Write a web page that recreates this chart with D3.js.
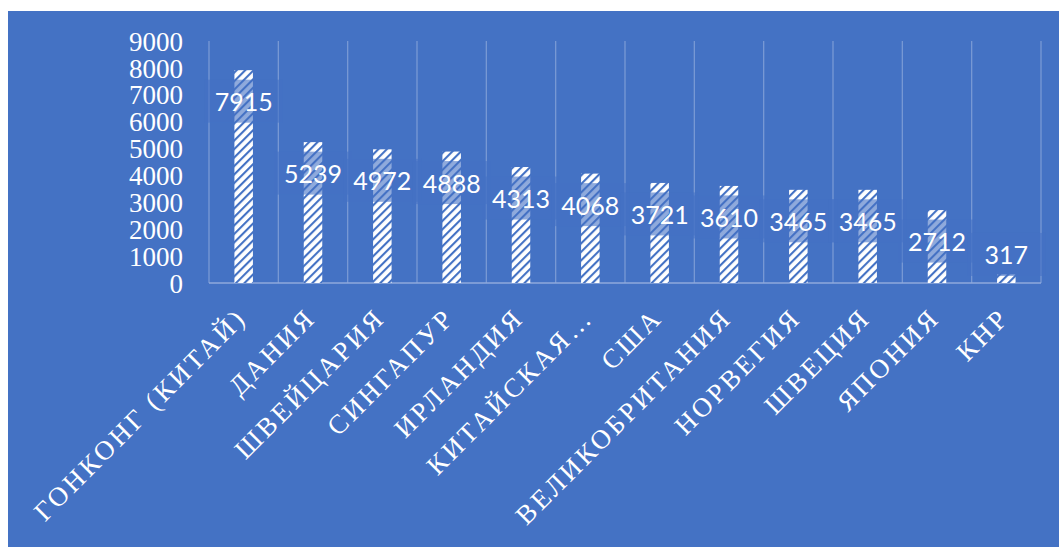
<!DOCTYPE html>
<html>
<head>
<meta charset="utf-8">
<script src="https://cdn.jsdelivr.net/npm/d3@7"></script>
<style>
  html, body { margin: 0; padding: 0; background: #ffffff; }
  svg { display: block; }
</style>
</head>
<body>
<svg id="chart" width="1059" height="547"></svg>
<script>
// ---- data ----
const categories = ["ГОНКОНГ (КИТАЙ)", "ДАНИЯ", "ШВЕЙЦАРИЯ", "СИНГАПУР", "ИРЛАНДИЯ", "КИТАЙСКАЯ…", "США", "ВЕЛИКОБРИТАНИЯ", "НОРВЕГИЯ", "ШВЕЦИЯ", "ЯПОНИЯ", "КНР"];
const values = [7915, 5239, 4972, 4888, 4313, 4068, 3721, 3610, 3465, 3465, 2712, 317];
const yTicks = [0, 1000, 2000, 3000, 4000, 5000, 6000, 7000, 8000, 9000];

// ---- layout ----
const W = 1059, H = 547;
const bg = "#4472C4";
const plot = { left: 209, right: 1041, top: 41, bottom: 283 };

const svg = d3.select("#chart");

// background panel
svg.append("rect").attr("x", 8).attr("y", 11).attr("width", W - 8).attr("height", H - 11).attr("fill", bg);

// hatch pattern
const defs = svg.append("defs");
const pat = defs.append("pattern")
  .attr("id", "hatch").attr("patternUnits", "userSpaceOnUse")
  .attr("width", 6).attr("height", 6)
  .attr("patternTransform", "rotate(45)");
pat.append("rect").attr("width", 6).attr("height", 6).attr("fill", "#ffffff");
pat.append("line").attr("x1", 1).attr("y1", 0).attr("x2", 1).attr("y2", 6)
  .attr("stroke", bg).attr("stroke-width", 2.2);

const x = d3.scaleBand().domain(categories).range([plot.left, plot.right]).paddingInner(0).paddingOuter(0);
const y = d3.scaleLinear().domain([0, 9000]).range([plot.bottom, plot.top]);

// vertical gridlines (category separators)
const gridX = categories.map(c => x(c)).concat([x(categories[categories.length - 1]) + x.bandwidth()]);
svg.append("g").selectAll("line").data(gridX).join("line")
  .attr("x1", d => d).attr("x2", d => d)
  .attr("y1", plot.top).attr("y2", plot.bottom)
  .attr("stroke", "#8faadc").attr("stroke-opacity", 0.7).attr("stroke-width", 1.3);

// baseline
svg.append("line").attr("x1", plot.left).attr("x2", plot.right)
  .attr("y1", y(0)).attr("y2", y(0))
  .attr("stroke", "#8faadc").attr("stroke-width", 1.3);

// bars
const barW = 18.5;
svg.append("g").selectAll("rect").data(values).join("rect")
  .attr("x", (d, i) => x(categories[i]) + x.bandwidth() / 2 - barW / 2)
  .attr("y", d => y(d))
  .attr("width", barW)
  .attr("height", d => y(0) - y(d))
  .attr("fill", "url(#hatch)");

// data labels with semi-transparent boxes
const boxW = 78, boxH = 43;
const labelY = d => {
  const h = y(0) - y(d);
  return h > boxH + 10 ? y(d) + 31 : y(d) - 20;
};
const lg = svg.append("g");
lg.selectAll("rect").data(values).join("rect")
  .attr("x", (d, i) => x(categories[i]) + x.bandwidth() / 2 - boxW / 2)
  .attr("y", d => labelY(d) - boxH / 2)
  .attr("width", boxW).attr("height", boxH)
  .attr("fill", bg).attr("fill-opacity", 0.6);
lg.selectAll("text").data(values).join("text")
  .attr("x", (d, i) => x(categories[i]) + x.bandwidth() / 2)
  .attr("y", d => labelY(d))
  .attr("text-anchor", "middle").attr("dominant-baseline", "central")
  .attr("font-family", "Lato, 'Open Sans', sans-serif").attr("font-size", 25)
  .attr("fill", "#ffffff")
  .text(d => d);

// y axis
const yAxis = d3.axisLeft(y).tickValues(yTicks).tickSize(0).tickPadding(0).tickFormat(d3.format("d"));
const ya = svg.append("g").attr("transform", "translate(183,0)").call(yAxis);
ya.select(".domain").remove();
ya.selectAll("text")
  .attr("fill", "#ffffff")
  .attr("font-family", "'Liberation Serif', 'Times New Roman', serif")
  .attr("font-size", 27)
  .attr("dy", "0.34em");

// x axis labels
const xAxis = d3.axisBottom(x).tickSize(0).tickPadding(0);
const xa = svg.append("g").attr("transform", `translate(0,${plot.bottom})`).call(xAxis);
xa.select(".domain").remove();
xa.selectAll("text")
  .attr("fill", "#ffffff")
  .attr("font-family", "'Liberation Serif', 'Times New Roman', serif")
  .attr("font-size", 27)
  .attr("letter-spacing", 3)
  .attr("text-anchor", "end")
  .attr("dominant-baseline", "central")
  .attr("x", 0).attr("y", 0).attr("dy", 0)
  .attr("transform", "translate(-2,30) rotate(-45)");
</script>
</body>
</html>
